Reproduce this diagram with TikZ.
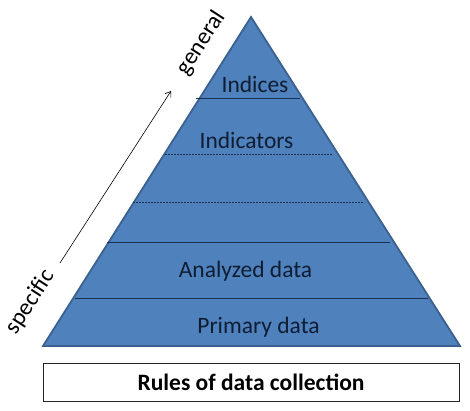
\documentclass[tikz,border=0pt]{standalone}
\usepackage{fontspec}
\setmainfont{Carlito}
\usetikzlibrary{arrows.meta}
\definecolor{pyrfill}{HTML}{4F81BD}
\definecolor{pyredge}{HTML}{3A6190}
\definecolor{sepline}{HTML}{1A2E4F}
\definecolor{lbltext}{HTML}{0F1D33}
\tikzset{
  lvl/.style={font=\fontsize{23.5}{26}\selectfont, text=lbltext, anchor=base, inner sep=0pt},
  side/.style={font=\fontsize{23.5}{26}\selectfont, text=black, inner sep=0pt, rotate=57},
  solidsep/.style={draw=sepline, line width=0.8pt},
  dashsep/.style={draw=sepline, line width=0.7pt, dash pattern=on 2pt off 1pt},
}
\begin{document}
\begin{tikzpicture}[x=1pt,y=-1pt]
\useasboundingbox (0,0) rectangle (470,411);
% pyramid
\coordinate (apex) at (251,17);
\coordinate (bl) at (43,346);
\coordinate (br) at (460,346);
\filldraw[fill=pyrfill, draw=pyredge, line width=1.8pt, line join=miter] (apex) -- (br) -- (bl) -- cycle;
% separators
\draw[solidsep] (196,98) -- (300,98);
\draw[dashsep] (165,154) -- (333,154);
\draw[dashsep] (133,202) -- (364,202);
\draw[solidsep] (107,242) -- (390,242);
\draw[solidsep] (75,298) -- (428,298);
% level labels
\node[lvl] (indices) at (255,93) {Indices};
\node[lvl] (indicators) at (246.5,149) {Indicators};
\node[lvl] (analyzed) at (245.5,277) {Analyzed data};
\node[lvl] (primary) at (258.5,333) {Primary data};
% base box
\node[draw=black!85, line width=1pt, fill=white, minimum width=416pt, minimum height=38pt, inner sep=0pt,
      font=\fontsize{23.5}{26}\selectfont\bfseries] (rules) at (251,382) {Rules of data collection};
% side arrow and labels
\coordinate (sp) at (60,263);
\coordinate (ge) at (171,91);
\draw[line width=0.6pt, -{Straight Barb[length=5pt,width=7pt]}] (sp) -- (ge);
\node[side] (general) at (201,43) {general};
\node[side] (specific) at (30,302) {specific};
\end{tikzpicture}
\end{document}
